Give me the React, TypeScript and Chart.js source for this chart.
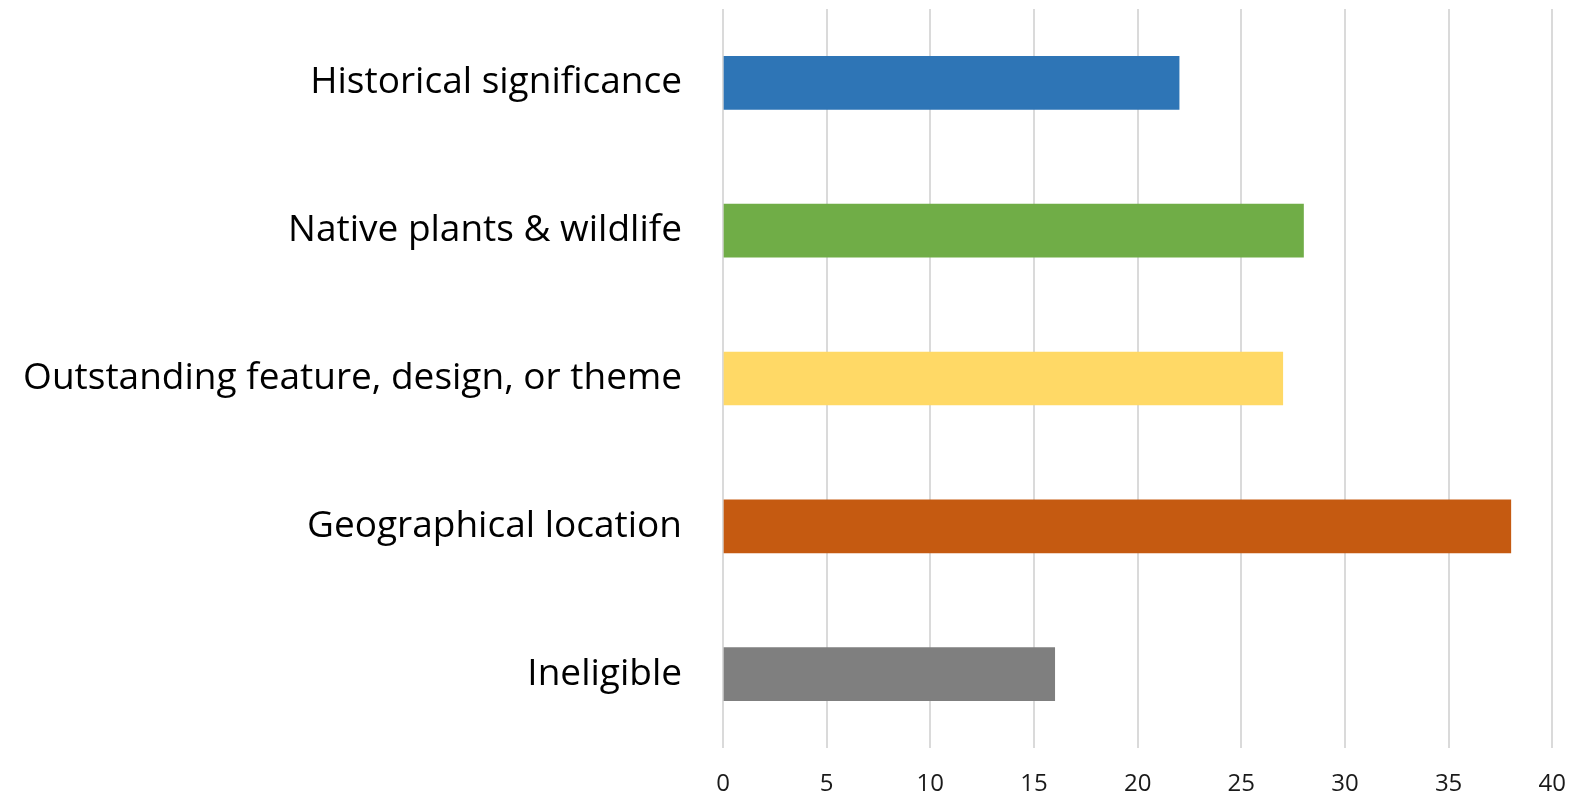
import React, { useEffect, useRef } from "react";
import { Chart, registerables } from "chart.js";

Chart.register(...registerables);

const categories = [
  "Historical significance",
  "Native plants & wildlife",
  "Outstanding feature, design, or theme",
  "Geographical location",
  "Ineligible",
];
const values = [22, 28, 27, 38, 16];
const barColors = ["#2E75B6", "#70AD47", "#FFD966", "#C55A11", "#7F7F7F"];
const xMin = 0;
const xMax = 40;
const xStep = 5;

export default function App() {
  const ref = useRef<HTMLCanvasElement | null>(null);

  useEffect(() => {
    if (!ref.current) return;
    const chart = new Chart(ref.current, {
      type: "bar",
      data: {
        labels: categories,
        datasets: [
          {
            data: values,
            backgroundColor: barColors,
            borderWidth: 0,
            barThickness: 53,
          },
        ],
      },
      options: {
        indexAxis: "y",
        animation: false,
        responsive: false,
        maintainAspectRatio: false,
        layout: { padding: { top: 9, right: 35, bottom: 0, left: 0 } },
        plugins: {
          legend: { display: false },
          tooltip: { enabled: false },
        },
        scales: {
          x: {
            min: xMin,
            max: xMax,
            ticks: {
              stepSize: xStep,
              color: "#1a1a1a",
              font: { family: "'Open Sans'", size: 24 },
              padding: 22,
            },
            grid: {
              color: "#dadada",
              lineWidth: 2,
              drawTicks: false,
            },
            border: { display: false },
            afterFit: (scale: any) => {
              scale.height = 47;
            },
          },
          y: {
            ticks: {
              color: "#000000",
              font: { family: "'Open Sans'", size: 37 },
              padding: 41,
            },
            grid: { display: false, drawTicks: false },
            border: { display: false },
            afterFit: (scale: any) => {
              scale.width = 723;
              scale.paddingTop = 0;
              scale.paddingBottom = 0;
            },
          },
        },
      },
    });
    return () => chart.destroy();
  }, []);

  return (
    <div
      style={{
        position: "fixed",
        left: 0,
        top: 0,
        width: "1588px",
        height: "795px",
        background: "#ffffff",
      }}
    >
      <canvas
        ref={ref}
        width={1588}
        height={795}
        style={{ display: "block", width: "1588px", height: "795px" }}
      />
    </div>
  );
}
